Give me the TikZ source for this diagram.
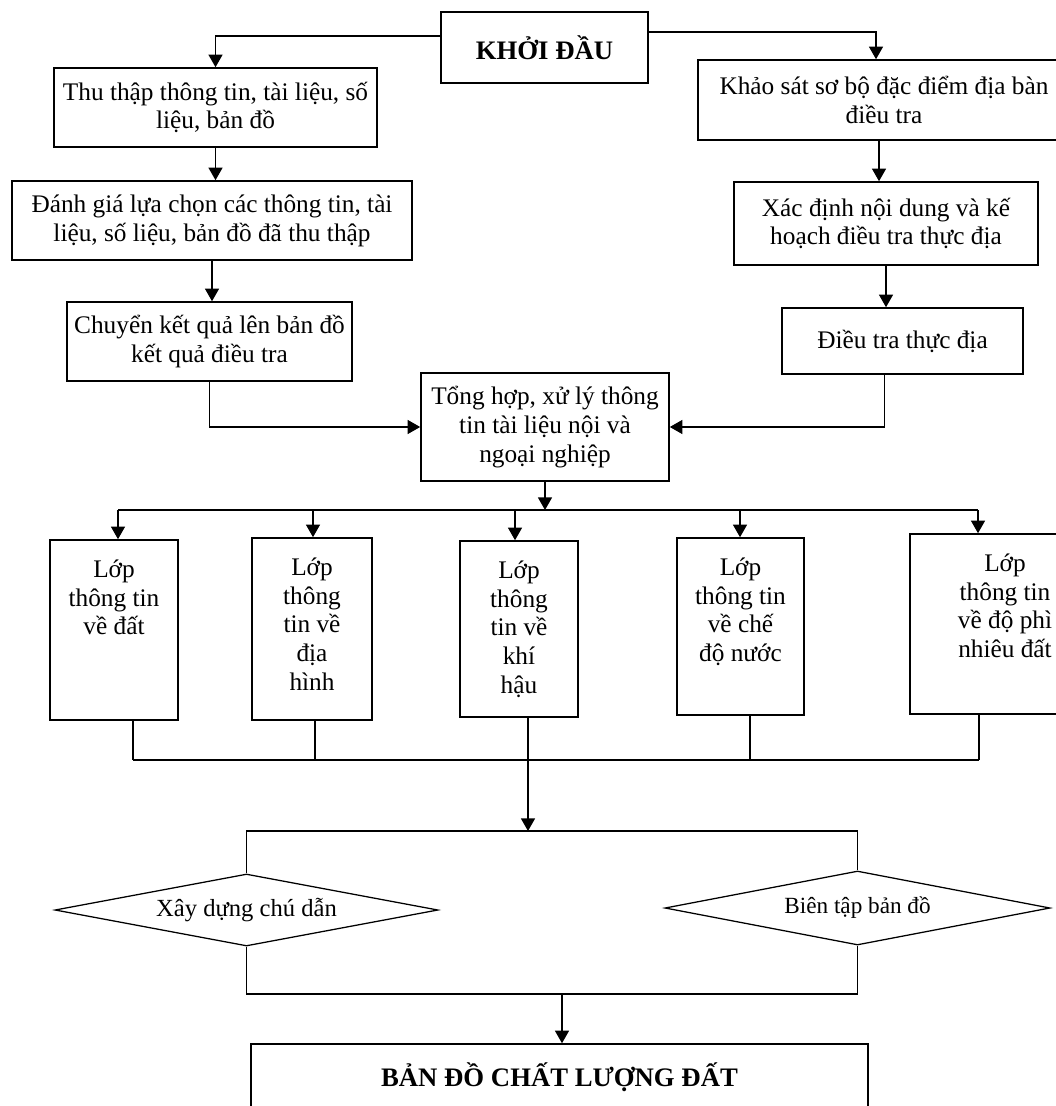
\documentclass[tikz,border=0pt]{standalone}
\usepackage{fontspec}
\setmainfont{Liberation Serif}
\usetikzlibrary{arrows.meta,shapes.geometric,calc}

\tikzset{
  box/.style={draw, line width=1.1pt, align=center, inner sep=0pt, font=\fontsize{18}{20.5}\selectfont},
  title/.style={box, font=\fontsize{19}{22}\selectfont\bfseries},
  layer/.style={draw, line width=1.1pt, inner sep=0pt, font=\fontsize{18}{20.5}\selectfont},
  choice/.style={draw, diamond, aspect=5.3, line width=0.9pt, inner sep=0pt, font=\fontsize{16.5}{19}\selectfont},
  link/.style={line width=1pt},
  arr/.style={link, -{Triangle[length=9pt,width=10pt]}},
}
\newcommand{\lyr}[2]{\parbox[c][#1][t]{2.9cm}{\centering\vspace*{14pt}#2}}

\begin{document}
\begin{tikzpicture}[x=0.025cm, y=-0.025cm]
    \useasboundingbox (0,0) rectangle (1055,1106);
    % Start and the two branches
    \node [title, minimum width=5.175cm, minimum height=1.775cm] (start) at (544.5,47.5) {KHỞI ĐẦU};
    \node [box, minimum width=8.075cm, minimum height=1.975cm] (thu) at (215.5,107.5) {Thu thập thông tin, tài liệu, số\\liệu, bản đồ};
    \node [box, minimum width=10cm, minimum height=1.975cm] (danhgia) at (212,220.5) {Đánh giá lựa chọn các thông tin, tài\\liệu, số liệu, bản đồ đã thu thập};
    \node [box, minimum width=7.125cm, minimum height=1.975cm] (chuyen) at (209.5,341.5) {Chuyển kết quả lên bản đồ\\kết quả điều tra};
    \node [box, minimum width=9.3cm, minimum height=2cm] (khaosat) at (884,100) {Khảo sát sơ bộ đặc điểm địa bàn\\điều tra};
    \node [box, minimum width=7.6cm, minimum height=2.075cm] (xacdinh) at (886,223.5) {Xác định nội dung và kế\\hoạch điều tra thực địa};
    \node [box, minimum width=6.025cm, minimum height=1.65cm] (dieutra) at (902.5,341) {Điều tra thực địa};
    \node [box, minimum width=6.2cm, minimum height=2.7cm] (tonghop) at (545,427) {Tổng hợp, xử lý thông\\tin tài liệu nội và\\ngoại nghiệp};
    \draw [arr] ($(start.west)+(0,-11.5)$) -| (thu.north);
    \draw [arr] ($(start.east)+(0,-15.5)$) -| ($(khaosat.north)+(-8,0)$);
    \draw [arr] (thu.south) -- (thu.south |- danhgia.north);
    \draw [arr] (danhgia.south) -- (danhgia.south |- chuyen.north);
    \draw [arr] (chuyen.south) |- (tonghop.west);
    \draw [arr] ($(khaosat.south)+(-5,0)$) -- ($(khaosat.south |- xacdinh.north)+(-5,0)$);
    \draw [arr] (xacdinh.south) -- (xacdinh.south |- dieutra.north);
    \draw [arr] ($(dieutra.south)+(-18,0)$) |- (tonghop.east);
    % Information layers
    \node [layer, minimum width=3.2cm] (lop1) at (114,630) {\lyr{4.5cm}{Lớp\\thông tin\\về đất}};
    \node [layer, minimum width=3cm] (lop2) at (312,629) {\lyr{4.55cm}{Lớp\\thông\\tin về\\địa\\hình}};
    \node [layer, minimum width=2.95cm] (lop3) at (519,629) {\lyr{4.4cm}{Lớp\\thông\\tin về\\khí\\hậu}};
    \node [layer, minimum width=3.175cm] (lop4) at (740.5,626.5) {\lyr{4.425cm}{Lớp\\thông tin\\về chế\\độ nước}};
    \node [layer, minimum width=4.75cm] (lop5) at (1005,624) {\lyr{4.5cm}{Lớp\\thông tin\\về độ phì\\nhiêu đất}};
    \coordinate (b1) at (118,510);
    \coordinate (b2) at (313,510);
    \coordinate (b3) at (515,510);
    \coordinate (b4) at (740,510);
    \coordinate (b5) at (978,510);
    \draw [arr] (tonghop.south) -- (tonghop.south |- b1);
    \draw [link] (b1) -- (b5);
    \foreach \i in {1,...,5}
        \draw [arr] (b\i) -- (b\i |- lop\i.north);
    \coordinate (c1) at (133,760);
    \coordinate (c2) at (315,760);
    \coordinate (c3) at (528,760);
    \coordinate (c4) at (750,760);
    \coordinate (c5) at (979,760);
    \foreach \i in {1,...,5}
        \draw [link] (c\i |- lop\i.south) -- (c\i);
    \draw [link] (c1) -- (c5);
    % Legend and editing, then the final map
    \node [choice, minimum width=9.575cm, minimum height=1.8cm, font=\fontsize{17.5}{20}\selectfont] (chudan) at (246.5,910) {Xây dựng chú dẫn};
    \node [choice, minimum width=9.625cm, minimum height=1.85cm] (bientap) at (857.5,908) {Biên tập bản đồ};
    \node [title, minimum width=15.425cm, minimum height=1.65cm] (final) at (559.5,1077) {BẢN ĐỒ CHẤT LƯỢNG ĐẤT};
    \coordinate (fl) at (246.5,831);
    \coordinate (fr) at (857.5,831);
    \coordinate (gl) at (246.5,994);
    \coordinate (gr) at (857.5,994);
    \coordinate (g) at (562,994);
    \draw [arr] (c3) -- (c3 |- fl);
    \draw [link] (chudan.north) -- (fl) -- (fr) -- (bientap.north);
    \draw [link] (chudan.south) -- (gl) -- (gr) -- (bientap.south);
    \draw [arr] (g) -- (g |- final.north);
\end{tikzpicture}
\end{document}
